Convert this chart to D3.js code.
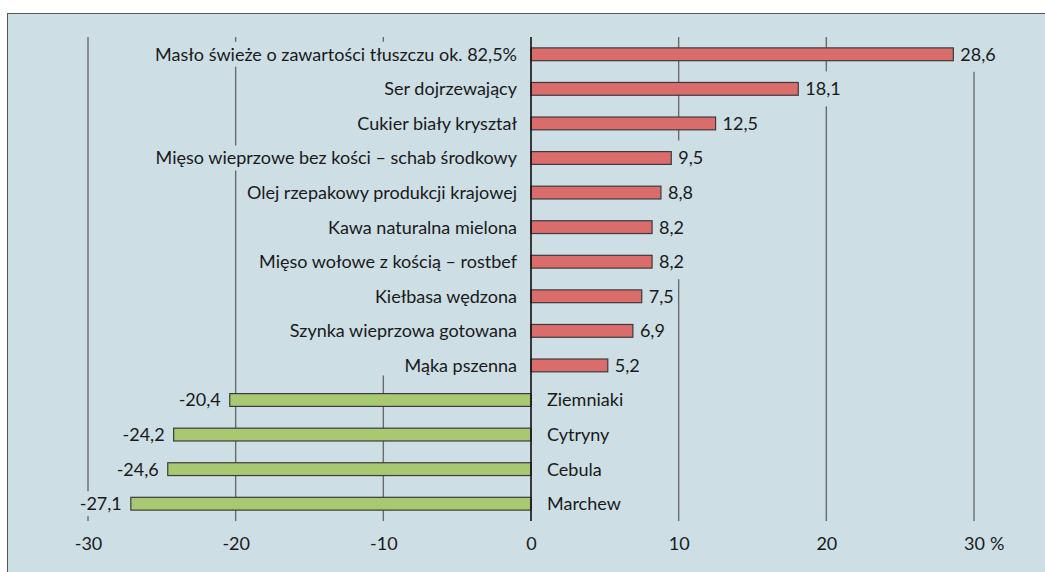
<!DOCTYPE html>
<html>
<head>
<meta charset="utf-8">
<script src="https://cdn.jsdelivr.net/npm/d3@7"></script>
<style>
  html, body { margin: 0; background: #fff; overflow: hidden; }
  svg { display: block; }
  svg text { font-family: Lato, "Open Sans", sans-serif; fill: #1a1a1a; }
</style>
</head>
<body>
<svg id="chart" width="1045" height="620"></svg>
<script>
// values (percent change)
const categories = [
  'Masło świeże o zawartości tłuszczu ok. 82,5%',
  'Ser dojrzewający',
  'Cukier biały kryształ',
  'Mięso wieprzowe bez kości – schab środkowy',
  'Olej rzepakowy produkcji krajowej',
  'Kawa naturalna mielona',
  'Mięso wołowe z kością – rostbef',
  'Kiełbasa wędzona',
  'Szynka wieprzowa gotowana',
  'Mąka pszenna',
  'Ziemniaki',
  'Cytryny',
  'Cebula',
  'Marchew'
];
const values = [28.6, 18.1, 12.5, 9.5, 8.8, 8.2, 8.2, 7.5, 6.9, 5.2, -20.4, -24.2, -24.6, -27.1];
const tickValues = [-30, -20, -10, 0, 10, 20, 30];
const tickUnit = '%';

const svg = d3.select('#chart');
const bg = '#cddee5';
const fontSize = 18;

// panel
svg.append('rect').attr('x', 7.5).attr('y', 13.5).attr('width', 1100).attr('height', 640)
  .attr('fill', bg).attr('stroke', '#555').attr('stroke-width', 1);

const x = d3.scaleLinear().domain([-30, 30]).range([88, 974]);
const y = d3.scaleBand().domain(categories).range([37, 521]).paddingInner(0).paddingOuter(0);
const barH = y.bandwidth() * 0.37;
const x0 = x(0);

// gridlines
const grid = svg.append('g');
grid.selectAll('line').data(tickValues.filter(d => d !== 0)).enter().append('line')
  .attr('x1', d => x(d)).attr('x2', d => x(d))
  .attr('y1', 37).attr('y2', 521)
  .attr('stroke', '#6b6b6b').attr('stroke-width', 1.4);

const minus = s => String(s).replace('−', '-');

// bottom axis (labels only)
const axis = svg.append('g').attr('transform', 'translate(0,521)')
  .call(d3.axisBottom(x).tickValues(tickValues).tickSize(0).tickPadding(16).tickFormat(d => minus(d3.format('d')(d))));
axis.select('.domain').remove();
axis.selectAll('text').style('font-size', fontSize + 'px').attr('fill', '#1a1a1a');
axis.selectAll('.tick').filter(d => d === 30).each(function () {
  const t = d3.select(this).select('text');
  const w = t.node().getComputedTextLength();
  d3.select(this).append('text')
    .attr('x', w / 2 + 5).attr('y', t.attr('y')).attr('dy', t.attr('dy'))
    .attr('text-anchor', 'start').style('font-size', fontSize + 'px').attr('fill', '#1a1a1a')
    .text(tickUnit);
});

// label backgrounds hide the gridlines behind text
const boxes = svg.append('g');
const labels = svg.append('g').style('font-size', fontSize + 'px');

const rows = categories.map((c, i) => ({ c, v: values[i] }));
const posRows = rows.filter(d => d.v >= 0);
// column box behind right-aligned category labels
const colTop = y(posRows[0].c) + y.bandwidth() / 2 - 11;
const colBot = y(posRows[posRows.length - 1].c) + y.bandwidth() / 2 + 10;
boxes.append('rect')
  .attr('x', x(-20) + 8).attr('width', x0 - 3 - (x(-20) + 8))
  .attr('y', colTop).attr('height', colBot - colTop)
  .attr('fill', bg);

function addLabel(txt, px, py, anchor, boxH) {
  const t = labels.append('text').attr('x', px).attr('y', py).attr('dy', '0.36em')
    .attr('text-anchor', anchor).text(txt);
  const bb = t.node().getBBox();
  boxes.append('rect').attr('x', bb.x - 2).attr('width', bb.width + 4)
    .attr('y', py - boxH / 2).attr('height', boxH).attr('fill', bg);
}

const fmt = v => minus(d3.format('.1f')(v)).replace('.', ',');

rows.forEach(d => {
  const cy = y(d.c) + y.bandwidth() / 2;
  if (d.v >= 0) {
    addLabel(d.c, x0 - 14, cy, 'end', 25);
    addLabel(fmt(d.v), x(d.v) + 7, cy, 'start', 35);
  } else {
    addLabel(d.c, x0 + 16, cy, 'start', 25);
    addLabel(fmt(d.v), x(d.v) - 9, cy, 'end', 25);
  }
});

// bars
svg.append('g').selectAll('rect').data(rows).enter().append('rect')
  .attr('x', d => x(Math.min(0, d.v)))
  .attr('width', d => Math.abs(x(d.v) - x0))
  .attr('y', d => y(d.c) + (y.bandwidth() - barH) / 2)
  .attr('height', barH)
  .attr('fill', d => d.v >= 0 ? '#db6c6c' : '#a8c872')
  .attr('stroke', '#3c3c3c').attr('stroke-width', 1.2);

// zero line
svg.append('line').attr('x1', x0).attr('x2', x0).attr('y1', 37).attr('y2', 521)
  .attr('stroke', '#111').attr('stroke-width', 1.6);

svg.node().appendChild(labels.node());
</script>
</body>
</html>
